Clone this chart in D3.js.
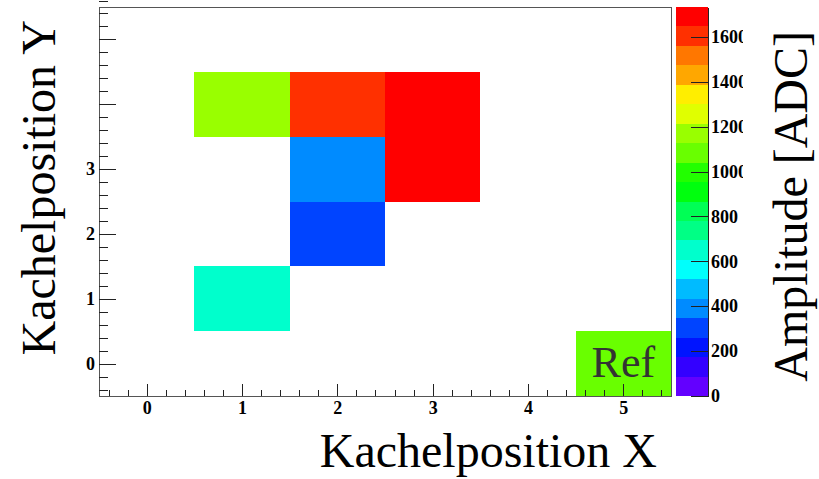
<!DOCTYPE html>
<html>
<head>
<meta charset="utf-8">
<script src="https://cdn.jsdelivr.net/npm/d3@7"></script>
<style>
  body { margin: 0; background: #fff; }
  text { font-family: "Liberation Serif", "Times New Roman", serif; }
</style>
</head>
<body>
<div id="plot"></div>
<script>
// Tile positions and amplitudes (one entry per filled tile)
const cellX = [1, 1, 2, 2, 2, 3, 3, 5];
const cellY = [1, 4, 2, 3, 4, 3, 4, 0];
const cellAmp = [650, 1170, 300, 390, 1620, 1700, 1733, 1080];

// Reference tile
const refX = 5;
const refY = 0;
const refLabel = "Ref";

// Axis ticks
const xTicks = [0, 1, 2, 3, 4, 5];
const yTicks = [0, 1, 2, 3, 4, 5];
const yTickLabels = ["0", "1", "2", "3", "", ""];
const zTicks = [0, 200, 400, 600, 800, 1000, 1200, 1400, 1600];

const xTitle = "Kachelposition X";
const yTitle = "Kachelposition Y";
const zTitle = "Amplitude [ADC]";

const W = 819, H = 479;
const plot = {left: 99, right: 671, top: 7, bottom: 396};
const pal = {left: 676, right: 708, clip: 743};

const svg = d3.select("#plot")
  .append("svg")
    .attr("width", W)
    .attr("height", H);

const x = d3.scaleLinear().domain([-0.5, 5.5]).range([plot.left, plot.right]);
const y = d3.scaleLinear().domain([-0.5, 5.5]).range([plot.bottom, plot.top]);

// ROOT "pretty" palette: 50 hues violet -> red, 20 contour levels
const nLevels = 20, nColors = 50;
const palette = d3.range(nLevels).map(k => {
  const idx = Math.floor((k + 0.99) * nColors / nLevels);
  if (idx >= nColors - 1) return "rgb(255,0,0)";
  const hue = 280 - (idx + 1) * (280 / nColors);
  return d3.hsl(hue, 1, 0.5).formatRgb();
});

const zMax = d3.max(cellAmp);
const color = d3.scaleQuantize().domain([0, zMax]).range(palette);
const z = d3.scaleLinear().domain([0, zMax]).range([plot.bottom, plot.top]);

// Cells
const cells = cellX.map((cx, i) => ({x: cx, y: cellY[i], v: cellAmp[i]}));
svg.append("g")
  .selectAll("rect")
  .data(cells)
  .enter()
  .append("rect")
    .attr("x", d => x(d.x - 0.5))
    .attr("y", d => y(d.y + 0.5))
    .attr("width", d => x(d.x + 0.5) - x(d.x - 0.5))
    .attr("height", d => y(d.y - 0.5) - y(d.y + 0.5))
    .attr("fill", d => color(d.v))
    .attr("shape-rendering", "crispEdges");

// Ref label
svg.append("text")
  .attr("x", x(refX))
  .attr("y", y(refY) + 13)
  .attr("text-anchor", "middle")
  .attr("font-size", 44)
  .attr("fill", "#333")
  .text(refLabel);

// Frame
svg.append("rect")
  .attr("x", plot.left)
  .attr("y", plot.top)
  .attr("width", plot.right - plot.left)
  .attr("height", plot.bottom - plot.top)
  .attr("fill", "none")
  .attr("stroke", "#555")
  .attr("shape-rendering", "crispEdges");

// minor ticks every 0.2
const minor = (lo, hi) => d3.range(Math.round(lo * 5), Math.round(hi * 5) + 1)
  .map(v => v / 5).filter(v => Math.abs(v - Math.round(v)) > 1e-6);

function styleLabels(sel) {
  sel.style("font-size", "18px")
    .style("font-weight", "bold")
    .style("font-family", "'Liberation Serif', serif")
    .attr("fill", "#000");
}

function styleAxis(g) {
  g.select(".domain").remove();
  g.selectAll("line").attr("stroke", "#222").attr("shape-rendering", "crispEdges");
  g.selectAll("text").call(styleLabels);
}

// X axis (ticks inward)
svg.append("g")
  .attr("transform", `translate(0,${plot.bottom})`)
  .call(d3.axisBottom(x).tickValues(xTicks).tickSize(-11.7).tickPadding(5).tickFormat(d3.format("d")))
  .call(styleAxis);
svg.append("g")
  .attr("transform", `translate(0,${plot.bottom})`)
  .call(d3.axisBottom(x).tickValues(minor(-0.5, 5.5)).tickSize(-5.8).tickFormat(""))
  .call(styleAxis);

// Y axis (ticks inward)
svg.append("g")
  .attr("transform", `translate(${plot.left},0)`)
  .call(d3.axisLeft(y).tickValues(yTicks).tickSize(-17).tickPadding(4)
    .tickFormat((d, i) => yTickLabels[i]))
  .call(styleAxis);
svg.append("g")
  .attr("transform", `translate(${plot.left},0)`)
  .call(d3.axisLeft(y).tickValues(minor(-0.5, 5.5)).tickSize(-8.6).tickFormat(""))
  .call(styleAxis);

// Palette
svg.append("g")
  .selectAll("rect")
  .data(palette)
  .enter()
  .append("rect")
    .attr("x", pal.left)
    .attr("y", (d, k) => z(zMax * (k + 1) / nLevels))
    .attr("width", pal.right - pal.left)
    .attr("height", (d, k) => z(zMax * k / nLevels) - z(zMax * (k + 1) / nLevels))
    .attr("fill", d => d)
    .attr("shape-rendering", "crispEdges");

// labels of the palette axis are cut off on the right
svg.append("defs").append("clipPath")
  .attr("id", "zclip")
  .append("rect")
    .attr("x", pal.left - pal.right)
    .attr("y", 0)
    .attr("width", pal.clip - pal.left)
    .attr("height", H);

const zAxis = svg.append("g")
  .attr("transform", `translate(${pal.right},0)`)
  .attr("clip-path", "url(#zclip)")
  .call(d3.axisRight(z).tickValues(zTicks).tickSizeInner(-17).tickSizeOuter(0).tickPadding(3).tickFormat(d3.format("d")));
zAxis.select(".domain").attr("stroke", "#222").attr("shape-rendering", "crispEdges");
zAxis.selectAll("line").attr("stroke", "#222").attr("shape-rendering", "crispEdges");
zAxis.selectAll("text").call(styleLabels);

// Titles
svg.append("text")
  .attr("x", 657)
  .attr("y", 467)
  .attr("text-anchor", "end")
  .attr("font-size", 48)
  .text(xTitle);

svg.append("text")
  .attr("transform", "translate(55,20) rotate(-90)")
  .attr("text-anchor", "end")
  .attr("font-size", 48)
  .text(yTitle);

svg.append("text")
  .attr("transform", "translate(807,31) rotate(-90)")
  .attr("text-anchor", "end")
  .attr("font-size", 48)
  .text(zTitle);
</script>
</body>
</html>
